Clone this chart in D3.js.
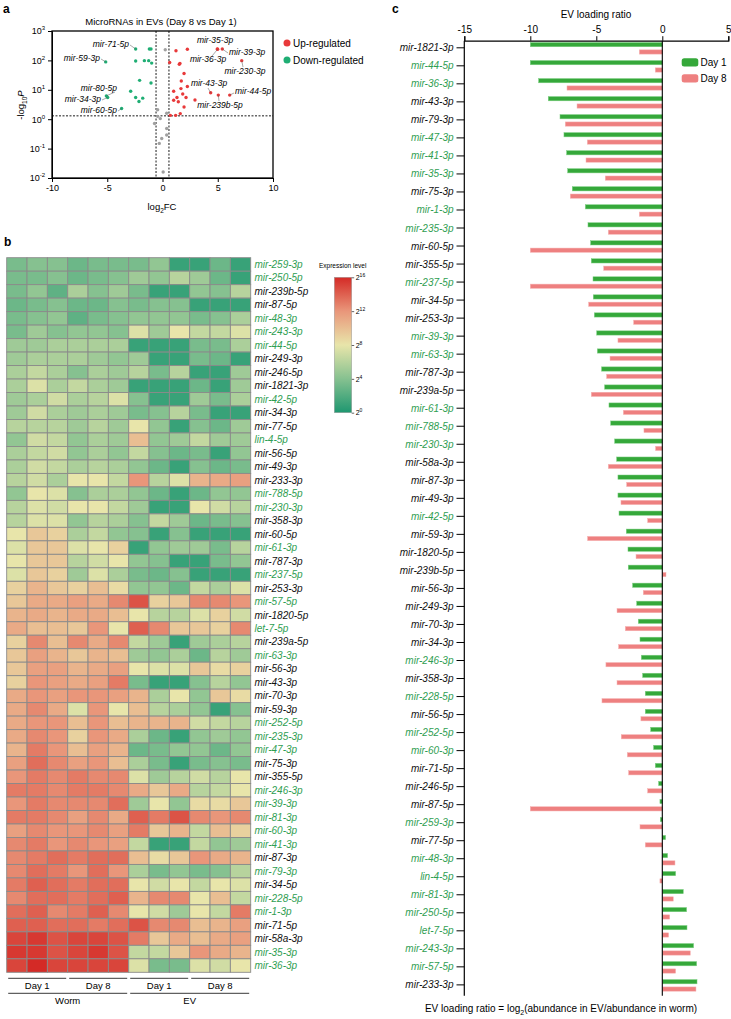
<!DOCTYPE html>
<html>
<head>
<meta charset="utf-8">
<script src="https://cdn.jsdelivr.net/npm/d3@7"></script>
<style>
body { margin: 0; background: #fff; }
svg { font-family: Arial, "Liberation Sans", Helvetica, sans-serif; }
</style>
</head>
<body>
<script>
/* ---- panel a : volcano ---- */
var fcTicks = [-10, -5, 0, 5, 10];
var pTicks = [0.01, 0.1, 1, 10, 100, 1000];

// [log2FC, -log10P]
var volcanoUp = [[1.22,214],[2.25,240],[4.96,245],[4.99,240],[5.41,245],[0.65,85],[1.52,74],[1.58,79],
    [1.95,36],[1.70,20],[2.25,13],[1.67,11],[4.36,7.9],[6.08,6.6],[7.17,98],[5.05,6.6],[1.01,8.9],
    [1.83,7.2],[1.31,5.5],[2.13,5.5],[2.94,4.5],[1.01,4.4],[1.43,3.9],[1.95,2.6],[0.71,1.35],[1.19,1.35],[1.61,1.55]];
var volcanoDown = [[-2.43,245],[-1.19,245],[-1.04,245],[-5.14,89],[-2.43,95],[-1.64,98],[-1.25,98],[-0.98,81],
    [-2.07,21],[-1.04,17],[-2.88,8.9],[-5.08,6.2],[-4.96,5.5],[-2.43,5.5],[-1.79,5.2],[-2.13,4.0],[-3.70,2.3]];
var volcanoNs = [[0.25,230],[-0.44,2.1],[0.38,1.6],[-0.44,1.25],[-0.20,1.05],[-0.72,0.71],[0.38,0.48],
    [0.38,0.29],[-0.07,0.22],[-0.29,0.15],[0.06,0.016]];
var volcanoLabels = [['mir-71-5p',-2.43,245],['mir-59-3p',-5.14,89],['mir-80-5p',-5.08,6.2],['mir-34-3p',-4.96,5.5],
    ['mir-60-5p',-3.70,2.3],['mir-35-3p',4.96,245],['mir-36-3p',4.99,240],['mir-39-3p',5.41,245],
    ['mir-230-3p',7.17,98],['mir-43-3p',4.36,7.9],['mir-44-5p',6.08,6.6],['mir-239b-5p',5.05,6.6]];

/* ---- panel b : heatmap ---- */
var heatNames = ['mir-259-3p','mir-250-5p','mir-239b-5p','mir-87-5p','mir-48-3p','mir-243-3p','mir-44-5p',
    'mir-249-3p','mir-246-5p','mir-1821-3p','mir-42-5p','mir-34-3p','mir-77-5p','lin-4-5p','mir-56-5p',
    'mir-49-3p','mir-233-3p','mir-788-5p','mir-230-3p','mir-358-3p','mir-60-5p','mir-61-3p','mir-787-3p',
    'mir-237-5p','mir-253-3p','mir-57-5p','mir-1820-5p','let-7-5p','mir-239a-5p','mir-63-3p','mir-56-3p',
    'mir-43-3p','mir-70-3p','mir-59-3p','mir-252-5p','mir-235-3p','mir-47-3p','mir-75-3p','mir-355-5p',
    'mir-246-3p','mir-39-3p','mir-81-3p','mir-60-3p','mir-41-3p','mir-87-3p','mir-79-3p','mir-34-5p',
    'mir-228-5p','mir-1-3p','mir-71-5p','mir-58a-3p','mir-35-3p','mir-36-3p'];
var heatGreen = ['mir-259-3p','mir-250-5p','mir-48-3p','mir-243-3p','mir-44-5p','mir-42-5p','lin-4-5p',
    'mir-788-5p','mir-230-3p','mir-61-3p','mir-237-5p','mir-57-5p','let-7-5p','mir-63-3p','mir-252-5p',
    'mir-235-3p','mir-47-3p','mir-246-3p','mir-39-3p','mir-81-3p','mir-60-3p','mir-41-3p','mir-79-3p',
    'mir-228-5p','mir-1-3p','mir-35-3p','mir-36-3p'];
var sampleGroups = ['Day 1', 'Day 8', 'Day 1', 'Day 8'];
var sourceGroups = ['Worm', 'EV'];
var legendTicks = [0, 4, 8, 12, 16];

// log2 expression, columns: Worm D1 x3, Worm D8 x3, EV D1 x3, EV D8 x3
var heatValues = [
    [3.5,4,4,3,3.5,3.5,3.5,4.5,1,1,3,1],
    [3.5,3.5,4,3,3.5,4,5,4.5,6,5,3,1],
    [3.5,4.5,2.5,5.5,4,5,3.5,1,1,4.5,4,6],
    [3,3.5,4,3,3,4,3.5,4,4,1,1,1],
    [3.5,4,4.5,2.5,3.5,4,4.5,4.5,4.5,3.5,4,5.5],
    [3.5,5,4,4.5,4.5,4,7.5,5,8,6.5,6.5,7.5],
    [5,5,5.5,5.5,5.5,5.5,1,1,1,3.5,3.5,5.5],
    [5,5.5,5.5,5.5,5,4.5,5,1,1,3.5,3,1],
    [5.5,6.5,5.5,4,5.5,5,6,3.5,6,1,1,5],
    [5.5,7.5,5.5,6.5,5.5,5,1,1,1,3,1,5],
    [5,5.5,7,5.5,6,7.5,4,1,1,5,3.5,5.5],
    [5,7,5.5,5,5.5,5,3.5,4,6,3.5,1,1],
    [6,6,6,5,6,5,8,4.5,1,4,3,5],
    [4.5,7,6.5,4.5,5.5,5,10,4.5,5,6.5,5,5],
    [5.5,6.5,7,4.5,5.5,4.5,6.5,4,3,3.5,1,4.5],
    [5.5,7,6.5,5.5,6,5.5,4.5,3,1,4,3,3.5],
    [6,7,5.5,8,8,6.5,12,6,7.5,10.5,11,11.5],
    [4.5,8,7.5,4,5.5,5.5,4.5,3,1,3,4.5,4.5],
    [6,7.5,7,8,8,6.5,5,1,1,8,7,6],
    [6,7.5,7.5,4.5,6,5.5,4,6.5,5,3,3.5,4],
    [8,9.5,9,5.5,6.5,4.5,4,1,4,1,1,1],
    [7.5,9.5,9.5,7.5,8,9,1,4.5,5,5,3.5,6],
    [8,9.5,9.5,6,7,8,4.5,4,1,1,3.5,4.5],
    [7.5,9.5,9,5,7.5,5.5,3.5,3,4,1,1,1],
    [9,10.5,9.5,9,10,8.5,4.5,4.5,3,6.5,5.5,7.5],
    [9.5,11,11,11.5,11,12.5,14.5,9,9.5,12.5,12.5,12],
    [10.5,11,10.5,11,11,10,8,6,6,7.5,9,7],
    [11,10,10,9.5,12,8,14,12.5,9.5,9.5,9,12.5],
    [9,12.5,10,12.5,11,12.5,6.5,5,1,5,5.5,6],
    [9.5,11.5,10.5,9.5,10.5,10,5,4.5,5.5,3,6,5],
    [9.5,11.5,11.5,10.5,11,11.5,8,7.5,7.5,9.5,8.5,9],
    [9,12,11.5,11,11.5,13,3.5,1,1,4,6,4.5],
    [11,12,11.5,12,12,11.5,10.5,5.5,8,4.5,9.5,8.5],
    [11,12.5,11,7.5,12,8,10,6,5.5,4.5,1,4],
    [11,12,12,10,12,10,10.5,10.5,10.5,7,6.5,6],
    [11,12.5,12,9,12,11,5.5,3,1,4.5,5,4.5],
    [10.5,13,12,10,11.5,10.5,3,3.5,4.5,4.5,3,4.5],
    [11.5,13.5,12.5,11.5,12,10,5.5,3.5,1,3.5,4,3.5],
    [12,13,12.5,13,12.5,12.5,7.5,5,6,7,6,8],
    [13,13,12.5,13,13,12.5,11,9.5,11,6,6.5,8],
    [12,13,12.5,12.5,12.5,13.5,5,8,4.5,8.5,8.5,9.5],
    [13,13,12.5,11.5,12.5,11,14,13,14.5,12.5,12,12.5],
    [11.5,12.5,12,12,12.5,11.5,13,9.5,10.5,6.5,10,9],
    [12.5,13,12,12.5,12,11.5,6.5,1,1,6.5,4.5,5],
    [12.5,13,13.5,13,13.5,13.5,10,8.5,9.5,12,11,10.5],
    [12.5,13.5,13,12,13.5,12,5.5,3.5,4.5,3.5,4,6],
    [13,14,13.5,13,13.5,13.5,8,7,8,6.5,8,7.5],
    [12.5,13.5,13.5,13,13.5,14,10.5,12.5,12.5,8,10,6.5],
    [13.5,14,12.5,13,14,12.5,8,7,5,8,6.5,13],
    [14,14,13.5,13.5,13,13.5,14.5,12.5,12.5,10,10.5,11.5],
    [15,15.5,14.5,15,15,14.5,13,9.5,11,10,11,11.5],
    [15.5,15.5,14.5,15,15.5,14.5,6.5,6.5,9.5,12,11,10.5],
    [15,16,15,15,15,15,7.5,3.5,3.5,7.5,7,8]
];

/* ---- panel c : EV loading ratio ---- */
var ratioTicks = [-15, -10, -5, 0, 5];
var barNames = ['mir-1821-3p','mir-44-5p','mir-36-3p','mir-43-3p','mir-79-3p','mir-47-3p','mir-41-3p',
    'mir-35-3p','mir-75-3p','mir-1-3p','mir-235-3p','mir-60-5p','mir-355-5p','mir-237-5p','mir-34-5p',
    'mir-253-3p','mir-39-3p','mir-63-3p','mir-787-3p','mir-239a-5p','mir-61-3p','mir-788-5p','mir-230-3p',
    'mir-58a-3p','mir-87-3p','mir-49-3p','mir-42-5p','mir-59-3p','mir-1820-5p','mir-239b-5p','mir-56-3p',
    'mir-249-3p','mir-70-3p','mir-34-3p','mir-246-3p','mir-358-3p','mir-228-5p','mir-56-5p','mir-252-5p',
    'mir-60-3p','mir-71-5p','mir-246-5p','mir-87-5p','mir-259-3p','mir-77-5p','mir-48-3p','lin-4-5p',
    'mir-81-3p','mir-250-5p','let-7-5p','mir-243-3p','mir-57-5p','mir-233-3p'];
var barGreen = ['mir-44-5p','mir-36-3p','mir-47-3p','mir-41-3p','mir-35-3p','mir-1-3p','mir-235-3p',
    'mir-237-5p','mir-39-3p','mir-63-3p','mir-61-3p','mir-788-5p','mir-230-3p','mir-42-5p','mir-246-3p',
    'mir-228-5p','mir-252-5p','mir-60-3p','mir-259-3p','mir-48-3p','lin-4-5p','mir-81-3p','mir-250-5p',
    'let-7-5p','mir-243-3p','mir-57-5p'];
var day1Ratio = [-10,-10,-9.37,-8.64,-7.75,-7.45,-7.25,-7.17,-6.82,-5.83,-5.63,-5.43,-5.38,-5.25,-5.23,
    -5.15,-4.97,-4.92,-4.60,-4.37,-4.04,-3.91,-3.61,-3.46,-3.36,-3.36,-3.28,-2.73,-2.60,-2.58,-2.25,
    -1.94,-1.82,-1.69,-1.59,-1.49,-1.29,-1.29,-0.88,-0.66,-0.53,-0.28,-0.18,-0.15,0.25,0.40,1.01,
    1.59,1.84,1.87,2.37,2.60,2.63];
var day8Ratio = [-1.74,-0.53,-7.22,-6.46,-7.35,-5.68,-5.78,-4.32,-6.97,-1.74,-4.09,-10,-4.44,-10,-5.58,
    -2.17,-3.36,-3.96,-4.22,-5.38,-2.95,-1.39,-0.51,-4.09,-2.70,-3.13,-1.11,-5.66,-1.99,0.28,-1.44,
    -3.43,-2.80,-3.31,-4.27,-3.43,-4.57,-1.62,-3.11,-2.65,-2.55,-1.11,-10,-1.69,-1.29,0.96,-0.18,
    0.83,0.56,0.48,2.12,1.01,2.55];
var dayNames = ['Day 1', 'Day 8'];

var greenText = '#2f9e52';
var upColor = '#e8393a', downColor = '#1fae74', nsColor = '#a0a0a0';
var day1Color = '#35a83a', day8Color = '#ee8080';

var svg = d3.select('body').append('svg')
    .attr('width', 731)
    .attr('height', 1019);

/* panel letters */
[['a', 3, 13], ['b', 4, 246], ['c', 392, 13]].forEach(function(p) {
    svg.append('text').attr('x', p[1]).attr('y', p[2]).text(p[0])
        .style('font-weight', 'bold').style('font-size', '12px');
});

/*-------- panel a --------*/
var vx = d3.scaleLinear().domain([-10, 10]).range([52, 273]);
var vy = d3.scaleLog().domain([0.01, 1000]).range([178, 31]);
var gA = svg.append('g');

gA.append('text').attr('x', 161).attr('y', 25).attr('text-anchor', 'middle')
    .style('font-size', '9.5px').text('MicroRNAs in EVs (Day 8 vs Day 1)');

gA.append('g').attr('transform', 'translate(0,178)')
    .call(d3.axisBottom(vx).tickValues(fcTicks).tickSize(4).tickFormat(function(d) { return d; }))
    .call(function(g) { g.selectAll('text').style('font-size', '9px').attr('fill', '#000'); });

gA.append('g').attr('transform', 'translate(52,0)')
    .call(d3.axisLeft(vy).tickValues(pTicks).tickSize(4).tickFormat(function() { return ''; }))
    .call(function(g) {
        g.selectAll('.tick text').each(function(d) {
            var t = d3.select(this).attr('fill', '#000').style('font-size', '9px');
            t.append('tspan').text('10');
            t.append('tspan').attr('dy', -4).style('font-size', '6px').text(Math.round(Math.log10(d)));
        });
    });

gA.append('rect').attr('x', 52).attr('y', 31).attr('width', 221).attr('height', 147)
    .attr('fill', 'none').attr('stroke', '#000').attr('stroke-width', 1.3);

[-0.585, 0.585].forEach(function(v) {
    gA.append('line').attr('x1', vx(v)).attr('x2', vx(v)).attr('y1', 31).attr('y2', 178)
        .attr('stroke', '#000').attr('stroke-width', 0.9).attr('stroke-dasharray', '2,1.5');
});
gA.append('line').attr('x1', 52).attr('x2', 273).attr('y1', vy(1.3)).attr('y2', vy(1.3))
    .attr('stroke', '#000').attr('stroke-width', 0.9).attr('stroke-dasharray', '2,1.5');

[[volcanoNs, nsColor], [volcanoDown, downColor], [volcanoUp, upColor]].forEach(function(s) {
    gA.append('g').selectAll('circle').data(s[0]).enter().append('circle')
        .attr('cx', function(d) { return vx(d[0]); })
        .attr('cy', function(d) { return vy(d[1]); })
        .attr('r', 1.7)
        .attr('fill', s[1]);
});

// text x, baseline y, anchor, leader start x, y
var labelPos = {
    'mir-71-5p': [129, 47, 'end', 130, 45],
    'mir-59-3p': [100, 61, 'end', 101, 59],
    'mir-80-5p': [117, 91, 'end', 115, 92],
    'mir-34-3p': [101, 102, 'end', 102, 100],
    'mir-60-5p': [117, 113, 'end', 118, 111],
    'mir-35-3p': [215, 43, 'middle', null, null],
    'mir-36-3p': [208, 62, 'middle', 212, 56],
    'mir-39-3p': [229, 55, 'start', 228, 53],
    'mir-230-3p': [245, 74, 'middle', 243, 67],
    'mir-43-3p': [209, 86, 'middle', 208, 88],
    'mir-44-5p': [235, 94, 'start', 234, 93],
    'mir-239b-5p': [220, 108, 'middle', 219, 101]
};
volcanoLabels.forEach(function(l) {
    var pos = labelPos[l[0]];
    if (pos[3] !== null) {
        gA.append('line').attr('x1', pos[3]).attr('y1', pos[4])
            .attr('x2', vx(l[1])).attr('y2', vy(l[2]))
            .attr('stroke', '#555').attr('stroke-width', 0.5);
    }
    gA.append('text').attr('x', pos[0]).attr('y', pos[1]).attr('text-anchor', pos[2])
        .style('font-size', '8.5px').style('font-style', 'italic').text(l[0]);
});

var yl = gA.append('text').attr('transform', 'translate(24,105) rotate(-90)')
    .attr('text-anchor', 'middle').style('font-size', '9.5px');
yl.append('tspan').text('-log');
yl.append('tspan').attr('dy', 3).style('font-size', '6.5px').text('10');
yl.append('tspan').attr('dy', -3).style('font-style', 'italic').text('P');

var xl = gA.append('text').attr('x', 162).attr('y', 210).attr('text-anchor', 'middle').style('font-size', '9.5px');
xl.append('tspan').text('log');
xl.append('tspan').attr('dy', 3).style('font-size', '6.5px').text('2');
xl.append('tspan').attr('dy', -3).text('FC');

var legA = gA.append('g');
[['Up-regulated', upColor], ['Down-regulated', downColor]].forEach(function(d, i) {
    legA.append('circle').attr('cx', 287).attr('cy', 43 + i * 17).attr('r', 3.5).attr('fill', d[1]);
    legA.append('text').attr('x', 293).attr('y', 46.5 + i * 17).style('font-size', '10px').text(d[0]);
});

/*-------- panel b --------*/
var hx = d3.scaleBand().domain(d3.range(12)).range([6.7, 250.7]);
var hy = d3.scaleBand().domain(heatNames).range([257.7, 972.3]);
var hColor = d3.scaleLinear().domain([0, 4, 8, 12, 16])
    .range(['#1e9770', '#86c190', '#e8e5aa', '#e9967a', '#d42a26']);
var gB = svg.append('g');

heatNames.forEach(function(name, r) {
    gB.append('g').selectAll('rect').data(heatValues[r]).enter().append('rect')
        .attr('x', function(d, c) { return hx(c); })
        .attr('y', hy(name))
        .attr('width', hx.bandwidth())
        .attr('height', hy.bandwidth())
        .attr('fill', function(d) { return hColor(d); })
        .attr('stroke', '#8a8a8a')
        .attr('stroke-width', 0.9);
});

gB.append('g').selectAll('text').data(heatNames).enter().append('text')
    .attr('x', 254.5)
    .attr('y', function(d) { return hy(d) + hy.bandwidth() / 2; })
    .attr('dy', '0.35em')
    .style('font-size', '10px').style('font-style', 'italic')
    .attr('fill', function(d) { return heatGreen.indexOf(d) >= 0 ? greenText : '#111'; })
    .text(function(d) { return d; });

// group brackets
sampleGroups.forEach(function(g, i) {
    var x0 = hx(i * 3) + 1.5, x1 = hx(i * 3 + 2) + hx.bandwidth() - 1.5;
    gB.append('line').attr('x1', x0).attr('x2', x1).attr('y1', 978.3).attr('y2', 978.3)
        .attr('stroke', '#222').attr('stroke-width', 0.9);
    gB.append('text').attr('x', (x0 + x1) / 2).attr('y', 989).attr('text-anchor', 'middle')
        .style('font-size', '9.5px').text(g);
});
sourceGroups.forEach(function(g, i) {
    var x0 = hx(i * 6) + 1.5, x1 = hx(i * 6 + 5) + hx.bandwidth() - 1.5;
    gB.append('line').attr('x1', x0).attr('x2', x1).attr('y1', 993.3).attr('y2', 993.3)
        .attr('stroke', '#222').attr('stroke-width', 0.9);
    gB.append('text').attr('x', (x0 + x1) / 2).attr('y', 1004).attr('text-anchor', 'middle')
        .style('font-size', '9.5px').text(g);
});

// colour legend
var ly = d3.scaleLinear().domain([0, 16]).range([412.7, 277.3]);
var grad = svg.append('defs').append('linearGradient').attr('id', 'hgrad')
    .attr('x1', 0).attr('x2', 0).attr('y1', 1).attr('y2', 0);
legendTicks.forEach(function(v) {
    grad.append('stop').attr('offset', v / 16).attr('stop-color', hColor(v));
});
gB.append('text').attr('x', 319).attr('y', 268).style('font-size', '6.5px').text('Expression level');
gB.append('rect').attr('x', 334.3).attr('y', ly(16)).attr('width', 17.4).attr('height', ly(0) - ly(16))
    .attr('fill', 'url(#hgrad)').attr('stroke', '#999').attr('stroke-width', 0.5);
gB.append('g').attr('transform', 'translate(351.7,0)')
    .call(d3.axisRight(ly).tickValues(legendTicks).tickSize(2.5).tickFormat(function() { return ''; }))
    .call(function(g) {
        g.select('.domain').remove();
        g.selectAll('line').attr('stroke', '#666');
        g.selectAll('.tick text').each(function(d) {
            var t = d3.select(this).attr('fill', '#000').attr('x', 4).style('font-size', '7px');
            t.append('tspan').text('2');
            t.append('tspan').attr('dy', -3).style('font-size', '5px').text(d);
        });
    });

/*-------- panel c --------*/
var bx = d3.scaleLinear().domain([-15, 5]).range([464.3, 728.3]);
var by = d3.scaleBand().domain(barNames).range([40.7, 995.8]);
var bSub = d3.scaleBand().domain(dayNames).range([1.8, 13.4]).paddingInner(0.42);
var gC = svg.append('g');

gC.append('text').attr('x', 596).attr('y', 17.5).attr('text-anchor', 'middle')
    .style('font-size', '10px').text('EV loading ratio');

gC.append('g').attr('transform', 'translate(0,40.7)')
    .call(d3.axisTop(bx).tickValues(ratioTicks).tickSize(4.5).tickFormat(function(d) { return d; }))
    .call(function(g) {
        g.select('.domain').attr('stroke-width', 1.2);
        g.selectAll('text').style('font-size', '10px').attr('fill', '#000');
    });

var rows = gC.selectAll('.row').data(barNames).enter().append('g')
    .attr('class', 'row')
    .attr('transform', function(d) { return 'translate(0,' + by(d) + ')'; });

[[day1Ratio, day1Color, '#7fd084', 'Day 1'], [day8Ratio, day8Color, '#f6b3b3', 'Day 8']].forEach(function(s) {
    rows.append('rect')
        .attr('x', function(d, i) { return bx(Math.min(0, s[0][i])); })
        .attr('y', bSub(s[3]))
        .attr('width', function(d, i) { return Math.abs(bx(s[0][i]) - bx(0)); })
        .attr('height', bSub.bandwidth())
        .attr('fill', s[1])
        .attr('stroke', s[2])
        .attr('stroke-width', 0.5);
});

// left axis with ticks between the pair of bars
gC.append('line').attr('x1', 464.3).attr('x2', 464.3).attr('y1', 40.7).attr('y2', 995.8)
    .attr('stroke', '#000').attr('stroke-width', 1.2);
rows.append('line').attr('x1', 456.5).attr('x2', 464.3).attr('y1', 7.1).attr('y2', 7.1)
    .attr('stroke', '#000').attr('stroke-width', 1);
rows.append('text').attr('x', 453.5).attr('y', 7.1).attr('dy', '0.35em').attr('text-anchor', 'end')
    .style('font-size', '10px').style('font-style', 'italic')
    .attr('fill', function(d) { return barGreen.indexOf(d) >= 0 ? greenText : '#111'; })
    .text(function(d) { return d; });

gC.append('line').attr('x1', bx(0)).attr('x2', bx(0)).attr('y1', 40.7).attr('y2', 995.8)
    .attr('stroke', '#000').attr('stroke-width', 1.1);

var legC = gC.append('g');
[[day1Color, 'Day 1'], [day8Color, 'Day 8']].forEach(function(d, i) {
    legC.append('rect').attr('x', 681.7).attr('y', 58.3 + i * 16).attr('width', 16.6).attr('height', 8.2)
        .attr('rx', 2.5).attr('fill', d[0]);
    legC.append('text').attr('x', 700.5).attr('y', 66 + i * 16).style('font-size', '10px').text(d[1]);
});

var bl = gC.append('text').attr('x', 561).attr('y', 1012).attr('text-anchor', 'middle').style('font-size', '10px');
bl.append('tspan').text('EV loading ratio = log');
bl.append('tspan').attr('dy', 3).style('font-size', '7px').text('2');
bl.append('tspan').attr('dy', -3).text('(abundance in EV/abundance in worm)');
</script>
</body>
</html>
